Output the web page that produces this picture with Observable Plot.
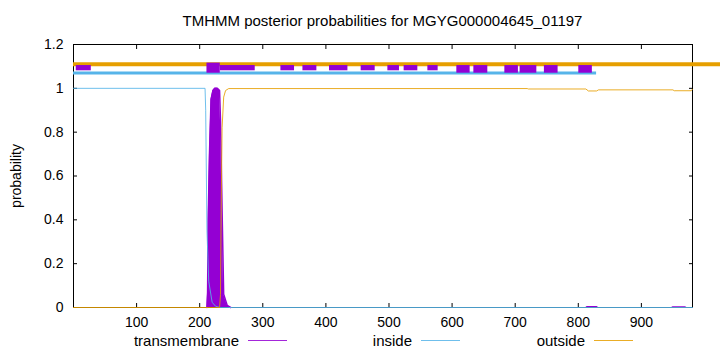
<!DOCTYPE html>
<html><head><meta charset="utf-8">
<script src="https://cdn.jsdelivr.net/npm/d3@7"></script>
<script src="https://cdn.jsdelivr.net/npm/@observablehq/plot@0.6"></script>
<style>
body{margin:0;background:#fff;}
#wrap{position:relative;width:720px;height:352px;font-family:"Liberation Sans",Arial,sans-serif;color:#000;overflow:hidden;}
#wrap svg{position:absolute;left:0;top:0;}
.txt{position:absolute;font-size:15px;line-height:15px;white-space:nowrap;}
.legline{position:absolute;height:1px;opacity:0.85;}
</style></head>
<body><div id="wrap"></div>
<script>
// ---- text ----
const titleText = "TMHMM posterior probabilities for MGYG000004645_01197";
const yLabel = "probability";
const legendNames = ["transmembrane", "inside", "outside"];
const seriesColors = ["#9400d3", "#56b4e9", "#e69f00"];
const xTicks = [100, 200, 300, 400, 500, 600, 700, 800, 900];
const yTicks = [0, 0.2, 0.4, 0.6, 0.8, 1, 1.2];
const xDomain = [0, 981];
const yDomain = [0, 1.2];

// ---- posterior probabilities: [residue, probability] ----
const tmSpike = [[211.5,0],[212.5,0.07],[213.5,0.4],[215.5,0.7],[218,0.95],[221,0.99],[224,1],[228,1],[231.5,0.99],[233,0.85],[235.5,0.44],[238,0.06],[243.5,0.01],[249,0]];
const tmBumpA = [[812,0],[814,0.004],[830,0.004],[832,0]];
const tmBumpB = [[948,0],[950,0.003],[970,0.003],[972,0]];
const insideProb = [[0,1],[208.5,1],[209.5,0.9],[211.5,0.35],[214.3,0.12],[219.7,0.024],[225,0.006],[232,0],[981,0]];
const outsideProb = [[0,0],[231.5,0],[233,0.06],[234,0.44],[235.5,0.82],[238,0.96],[241,0.99],[246,0.999],[719,0.999],[721,0.997],[812,0.997],[816,0.988],[829,0.988],[832,0.993],[950,0.993],[952,0.989],[979,0.989],[981,0.996]];

// ---- topology bars along the top: [start residue, end residue] ----
const outsideBar = [[0, 1027]];
const insideBar = [[0, 829]];
const tmBoxCore = [[211.5, 232.6]];
const tmBoxes = [[4.4,28.2],[232.6,288],[328.7,350.3],[363.6,385.7],[405.7,434.9],[455.9,478.1],[498.2,516.6],[524,545.7],[561.6,577.9]];
const tmBoxesTall = [[607.5,628.6],[634.5,656.6],[683.6,705.1],[707.8,734.3],[746.3,768],[800.8,822.3]];
const barLevels = {outside: 1.11, inside: 1.07};

const [cTM, cIn, cOut] = seriesColors;
const pts = a => a.map(([x, y]) => ({x, y}));
const segs = a => a.map(([x1, x2]) => ({x1, x2}));

const plot = Plot.plot({
  width: 720,
  height: 352,
  marginLeft: 73,
  marginRight: 28,
  marginTop: 44,
  marginBottom: 45,
  style: {fontFamily: '"Liberation Sans", Arial, sans-serif', fontSize: "14px", color: "#000", background: "transparent", overflow: "visible"},
  x: {domain: xDomain},
  y: {domain: yDomain},
  marks: [
    Plot.frame({stroke: "#000"}),
    // tick labels
    Plot.axisX(xTicks, {anchor: "bottom", tickSize: 0, tickPadding: 10, label: null, fontSize: 14}),
    Plot.axisY(yTicks, {anchor: "left", tickSize: 0, tickPadding: 10, tickFormat: d => String(d), fontSize: 14,
      label: yLabel, labelAnchor: "center", labelArrow: "none", labelOffset: 62}),
    // inward ticks, mirrored
    Plot.axisX(xTicks, {anchor: "bottom", tickSize: -4, fill: "none", label: null}),
    Plot.axisX(xTicks, {anchor: "top", tickSize: -4, fill: "none", label: null}),
    Plot.axisY(yTicks, {anchor: "left", tickSize: -4, fill: "none", label: null}),
    Plot.axisY(yTicks, {anchor: "right", tickSize: -4, fill: "none", label: null}),
    // transmembrane impulses
    Plot.areaY(pts(tmSpike), {x: "x", y: "y", fill: cTM}),
    Plot.lineY(pts(tmSpike), {x: "x", y: "y", stroke: cTM, strokeWidth: 1.5}),
    Plot.areaY(pts(tmBumpA), {x: "x", y: "y", fill: cTM}),
    Plot.areaY(pts(tmBumpB), {x: "x", y: "y", fill: cTM}),
    // inside / outside
    Plot.lineY(pts(insideProb), {x: "x", y: "y", stroke: cIn, strokeWidth: 1, strokeOpacity: 0.85}),
    Plot.lineY(pts(outsideProb), {x: "x", y: "y", stroke: cOut, strokeWidth: 1, strokeOpacity: 0.85}),
    // topology bars
    Plot.ruleY(segs(outsideBar), {x1: "x1", x2: "x2", y: () => barLevels.outside, stroke: cOut, strokeWidth: 4}),
    Plot.ruleY(segs(insideBar), {x1: "x1", x2: "x2", y: () => barLevels.inside, stroke: cIn, strokeWidth: 3}),
    Plot.rect(segs(tmBoxes), {x1: "x1", x2: "x2", y1: 1.08, y2: 1.104, fill: cTM}),
    Plot.rect(segs(tmBoxesTall), {x1: "x1", x2: "x2", y1: 1.069, y2: 1.104, fill: cTM}),
    Plot.rect(segs(tmBoxCore), {x1: "x1", x2: "x2", y1: 1.069, y2: 1.115, fill: cTM})
  ]
});

const wrap = document.getElementById("wrap");
wrap.appendChild(plot);

// title
const t = document.createElement("div");
t.className = "txt";
t.textContent = titleText;
t.style.left = "73px"; t.style.width = "619px"; t.style.textAlign = "center"; t.style.top = "13px";
wrap.appendChild(t);

// legend
const legRight = [239, 412, 585];
legendNames.forEach((name, i) => {
  const d = document.createElement("div");
  d.className = "txt";
  d.textContent = name;
  d.style.right = (720 - legRight[i]) + "px";
  d.style.top = "333px";
  wrap.appendChild(d);
  const l = document.createElement("div");
  l.className = "legline";
  l.style.left = (legRight[i] + 9) + "px";
  l.style.width = "39px";
  l.style.top = "340px";
  l.style.background = seriesColors[i];
  wrap.appendChild(l);
});
</script>
</body></html>
